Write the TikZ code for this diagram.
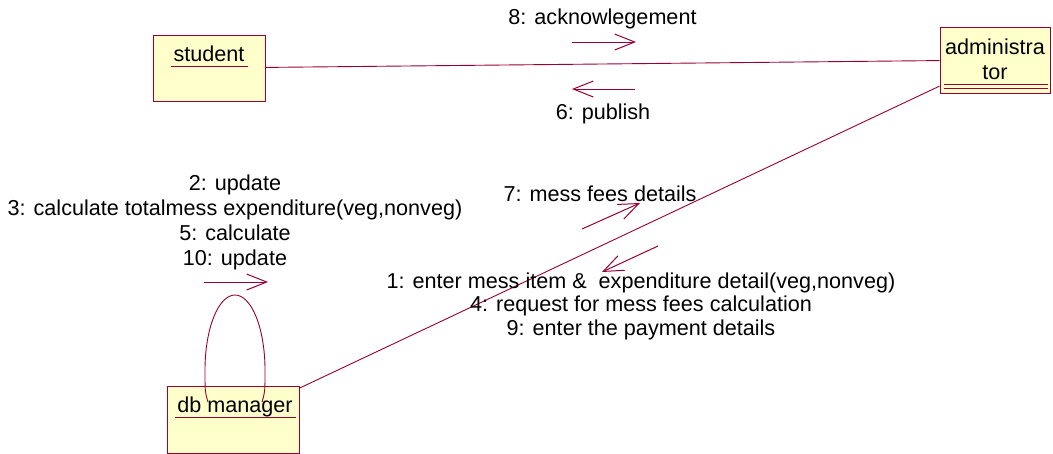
\documentclass[tikz,border=0pt]{standalone}
\usepackage{fontspec}
\setmainfont{Liberation Sans}
\usetikzlibrary{arrows.meta}
\definecolor{umlline}{RGB}{153,0,51}
\definecolor{umlfill}{RGB}{255,255,204}
\begin{document}
\begin{tikzpicture}[x=1pt,y=-1pt,
  every node/.style={font=\fontsize{21.6}{25}\selectfont, inner sep=0pt},
  objbox/.style={draw=umlline, fill=umlfill, line width=1pt, rectangle},
  link/.style={draw=umlline, line width=0.9pt},
  msg/.style={draw=umlline, line width=1pt, -{Straight Barb[length=20pt,width=16pt,line width=1pt]}},
  msgtext/.style={align=center, text=black}]
\useasboundingbox (0,0) rectangle (1053,453);

% objects
\node[objbox, minimum width=112pt, minimum height=66pt] (student) at (209,68) {};
\node[objbox, minimum width=110pt, minimum height=66pt] (admin) at (995,60) {};
\node[objbox, minimum width=132pt, minimum height=67pt] (db) at (233,419.5) {};

% object names, underlined
\node[anchor=base] (studentname) at (209,61) {student};
\draw[link] (171,66) -- (248,66);
\node[align=center, font=\fontsize{21.6}{25}\selectfont] (adminname) at (995,59) {administra\\tor};
\draw[link] (944,84) -- (1048,84);
\draw[link] (944,88) -- (1048,88);

% links
\draw[link] (student) -- (admin);
\draw[link] (admin) -- (db);

% self link on db manager
\coordinate (loopL) at (208,402);
\coordinate (loopR) at (262,402);
\draw[link] (loopL) .. controls (205,392) .. (205,370)
  .. controls (205,328.6) and (218.4,295) .. (235,295)
  .. controls (251.6,295) and (265,328.6) .. (265,370)
  .. controls (265,392) .. (loopR);
\node[anchor=base] (dbname) at (235,412) {db manager};
\draw[link] (175,417) -- (296,417);

% messages between student and administrator
\coordinate (ackA) at (572,42);  \coordinate (ackB) at (636,42);
\draw[msg] (ackA) -- (ackB);
\node[msgtext, anchor=base] (ack) at (602.5,24) {8: acknowlegement};
\coordinate (pubA) at (635,89);  \coordinate (pubB) at (572,89);
\draw[msg] (pubA) -- (pubB);
\node[msgtext, anchor=base] (pub) at (603,119) {6: publish};

% messages between administrator and db manager
\coordinate (feeA) at (582,229); \coordinate (feeB) at (640,203);
\draw[msg] (feeA) -- (feeB);
\node[msgtext, anchor=base] (fee) at (600,201) {7: mess fees details};
\coordinate (entA) at (658,246); \coordinate (entB) at (602,272);
\draw[msg] (entA) -- (entB);
\node[msgtext, font=\fontsize{21.6}{23.5}\selectfont] (ent) at (641,306)
  {1: enter mess item \&\ \ expenditure detail(veg,nonveg)\\
   4: request for mess fees calculation\\
   9: enter the payment details};

% self messages on db manager
\coordinate (updA) at (204,282); \coordinate (updB) at (268,282);
\draw[msg] (updA) -- (updB);
\node[msgtext] (upd) at (235,222)
  {2: update\\
   3: calculate totalmess expenditure(veg,nonveg)\\
   5: calculate\\
   10: update};
\end{tikzpicture}
\end{document}
